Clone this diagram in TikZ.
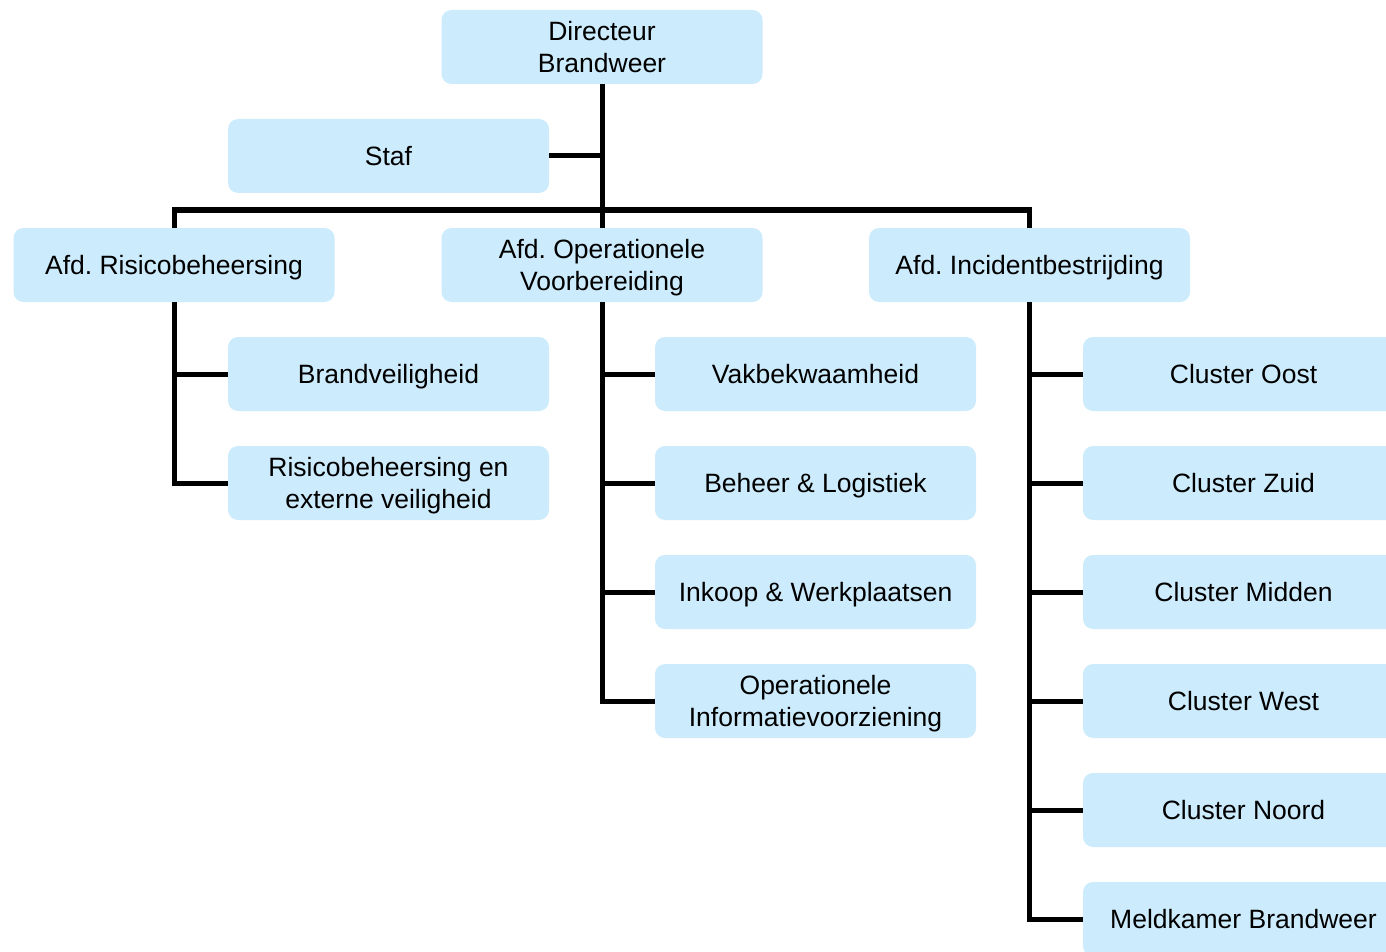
\documentclass[tikz,border=0pt]{standalone}
\usepackage{fontspec}
\setmainfont{Liberation Sans}
\frenchspacing
\definecolor{boxfill}{HTML}{CCEBFC}
\begin{document}
\begin{tikzpicture}[x=1pt,y=-1pt,
  box/.style={draw=none,fill=boxfill,rounded corners=10pt,minimum width=321pt,minimum height=74pt,inner sep=0pt,align=center,text depth=0pt,font=\fontsize{26.5}{32}\selectfont},
  conn/.style={draw=black,line width=5pt}]
\useasboundingbox (0,0) rectangle (1386,952);
\clip (0,0) rectangle (1386,952);
\node[box] (dir) at (602,47) {Directeur\\Brandweer};
\node[box] (staf) at (388.5,156) {Staf};
\node[box] (risk) at (174,265) {Afd. Risicobeheersing};
\node[box] (oper) at (602,265) {Afd. Operationele\\Voorbereiding};
\node[box] (inc) at (1029.5,265) {Afd. Incidentbestrijding};
\node[box] (brand) at (388.5,374) {Brandveiligheid};
\node[box] (rext) at (388.5,483) {Risicobeheersing en\\externe veiligheid};
\node[box] (vak) at (815.5,374) {Vakbekwaamheid};
\node[box] (beh) at (815.5,483) {Beheer \& Logistiek};
\node[box] (ink) at (815.5,592) {Inkoop \& Werkplaatsen};
\node[box] (opi) at (815.5,701) {Operationele\\Informatievoorziening};
\node[box] (oost) at (1243.5,374) {Cluster Oost};
\node[box] (zuid) at (1243.5,483) {Cluster Zuid};
\node[box] (midden) at (1243.5,592) {Cluster Midden};
\node[box] (west) at (1243.5,701) {Cluster West};
\node[box] (noord) at (1243.5,810) {Cluster Noord};
\node[box] (meld) at (1243.5,919) {Meldkamer Brandweer};
\coordinate (bus) at (602,210);
\draw[conn] (dir.south) -- (oper.north);
\draw[conn] (staf.east) -- (staf.east -| dir.south);
\draw[conn] (risk.north) |- (bus) -| (inc.north);
\draw[conn] (risk.south) |- (brand.west);
\draw[conn] (risk.south) |- (rext.west);
\draw[conn] (oper.south) |- (vak.west);
\draw[conn] (oper.south) |- (beh.west);
\draw[conn] (oper.south) |- (ink.west);
\draw[conn] (oper.south) |- (opi.west);
\draw[conn] (inc.south) |- (oost.west);
\draw[conn] (inc.south) |- (zuid.west);
\draw[conn] (inc.south) |- (midden.west);
\draw[conn] (inc.south) |- (west.west);
\draw[conn] (inc.south) |- (noord.west);
\draw[conn] (inc.south) |- (meld.west);
\end{tikzpicture}
\end{document}
